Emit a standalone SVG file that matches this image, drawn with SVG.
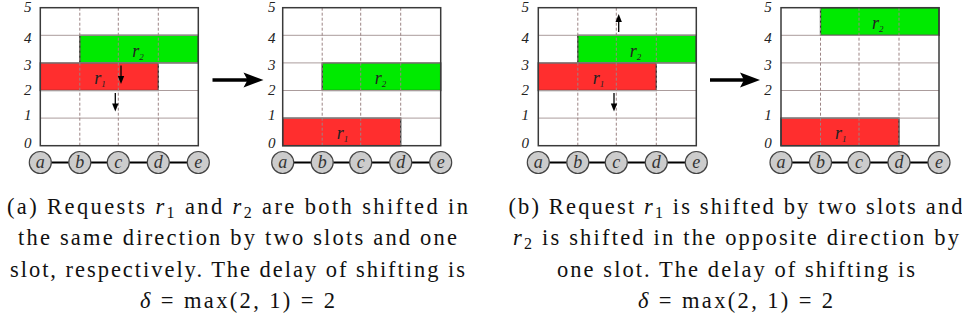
<svg xmlns="http://www.w3.org/2000/svg" width="962" height="322" viewBox="0 0 962 322">
<style>
.frame{fill:none;stroke:#3a3a3a;stroke-width:1.5}
.hl{stroke:#ab9c9c;stroke-width:1}
.vl{stroke:#9c8484;stroke-width:1;stroke-dasharray:3,2}
.red{fill:#ff2e2e;stroke:#333;stroke-width:1.3}
.green{fill:#00ea00;stroke:#333;stroke-width:1.3}
.nc{fill:#cccccc;stroke:#444;stroke-width:1.2}
.edge{stroke:#000;stroke-width:2}
.sl{stroke:#000;stroke-width:1.3}
.bl{stroke:#000;stroke-width:3.3}
</style>
<rect x="0" y="0" width="962" height="322" fill="#fff"/>
<g id="panel1" transform="translate(40.3,0)">
<rect x="0" y="7.7" width="158" height="138" fill="#fff"/>
<rect class="green" x="39.5" y="35.3" width="118.5" height="27.6"/>
<rect class="red" x="0" y="62.9" width="118" height="27.6"/>
<line class="hl" x1="0" y1="35.3" x2="158" y2="35.3"/>
<line class="hl" x1="0" y1="62.9" x2="158" y2="62.9"/>
<line class="hl" x1="0" y1="90.5" x2="158" y2="90.5"/>
<line class="hl" x1="0" y1="118.1" x2="158" y2="118.1"/>
<line class="vl" x1="39.5" y1="7.7" x2="39.5" y2="145.7"/>
<line class="vl" x1="78" y1="7.7" x2="78" y2="145.7"/>
<line class="vl" x1="118" y1="7.7" x2="118" y2="145.7"/>
<rect class="frame" x="0" y="7.7" width="158" height="138"/>
<text style="font-family:'Liberation Serif',serif;font-style:italic;font-size:18px" fill="#222" x="92" y="56.5">r<tspan style="font-size:9px" dy="3">2</tspan></text>
<text style="font-family:'Liberation Serif',serif;font-style:italic;font-size:18px" fill="#222" x="54" y="84">r<tspan style="font-size:9px" dy="3">1</tspan></text>
<text style="font-family:'Liberation Serif',serif;font-style:italic;font-size:15px" fill="#222" text-anchor="middle" x="-12.5" y="11.5">5</text>
<text style="font-family:'Liberation Serif',serif;font-style:italic;font-size:15px" fill="#222" text-anchor="middle" x="-12.5" y="42.5">4</text>
<text style="font-family:'Liberation Serif',serif;font-style:italic;font-size:15px" fill="#222" text-anchor="middle" x="-12.5" y="70">3</text>
<text style="font-family:'Liberation Serif',serif;font-style:italic;font-size:15px" fill="#222" text-anchor="middle" x="-12.5" y="95">2</text>
<text style="font-family:'Liberation Serif',serif;font-style:italic;font-size:15px" fill="#222" text-anchor="middle" x="-12.5" y="120">1</text>
<text style="font-family:'Liberation Serif',serif;font-style:italic;font-size:15px" fill="#222" text-anchor="middle" x="-12.5" y="147.5">0</text>
<g id="p1-connectors">
<line class="edge" x1="11" y1="162.5" x2="28.5" y2="162.5"/>
<line class="edge" x1="50.5" y1="162.5" x2="67" y2="162.5"/>
<line class="edge" x1="89" y1="162.5" x2="107" y2="162.5"/>
<line class="edge" x1="129" y1="162.5" x2="147" y2="162.5"/>
<line class="sl" x1="80.7" y1="65.5" x2="80.7" y2="78"/>
<polygon points="77.5,76 83.9,76 80.7,84" fill="#000"/>
<line class="sl" x1="75" y1="93" x2="75" y2="105.5"/>
<polygon points="71.8,103.5 78.2,103.5 75,111.5" fill="#000"/>
</g>
<g id="p1-a"><circle class="nc" cx="0" cy="162.5" r="11"/><text style="font-family:'Liberation Serif',serif;font-style:italic;font-size:18px" fill="#333" text-anchor="middle" x="0" y="168">a</text></g>
<g id="p1-b"><circle class="nc" cx="39.5" cy="162.5" r="11"/><text style="font-family:'Liberation Serif',serif;font-style:italic;font-size:18px" fill="#333" text-anchor="middle" x="39.5" y="168">b</text></g>
<g id="p1-c"><circle class="nc" cx="78" cy="162.5" r="11"/><text style="font-family:'Liberation Serif',serif;font-style:italic;font-size:18px" fill="#333" text-anchor="middle" x="78" y="168">c</text></g>
<g id="p1-d"><circle class="nc" cx="118" cy="162.5" r="11"/><text style="font-family:'Liberation Serif',serif;font-style:italic;font-size:18px" fill="#333" text-anchor="middle" x="118" y="168">d</text></g>
<g id="p1-e"><circle class="nc" cx="158" cy="162.5" r="11"/><text style="font-family:'Liberation Serif',serif;font-style:italic;font-size:18px" fill="#333" text-anchor="middle" x="158" y="168">e</text></g>
</g>
<g id="panel2" transform="translate(282.7,0)">
<rect x="0" y="7.7" width="158" height="138" fill="#fff"/>
<rect class="green" x="39.5" y="62.9" width="118.5" height="27.6"/>
<rect class="red" x="0" y="118.1" width="118" height="27.6"/>
<line class="hl" x1="0" y1="35.3" x2="158" y2="35.3"/>
<line class="hl" x1="0" y1="62.9" x2="158" y2="62.9"/>
<line class="hl" x1="0" y1="90.5" x2="158" y2="90.5"/>
<line class="hl" x1="0" y1="118.1" x2="158" y2="118.1"/>
<line class="vl" x1="39.5" y1="7.7" x2="39.5" y2="145.7"/>
<line class="vl" x1="78" y1="7.7" x2="78" y2="145.7"/>
<line class="vl" x1="118" y1="7.7" x2="118" y2="145.7"/>
<rect class="frame" x="0" y="7.7" width="158" height="138"/>
<text style="font-family:'Liberation Serif',serif;font-style:italic;font-size:18px" fill="#222" x="92" y="84">r<tspan style="font-size:9px" dy="3">2</tspan></text>
<text style="font-family:'Liberation Serif',serif;font-style:italic;font-size:18px" fill="#222" x="54" y="139">r<tspan style="font-size:9px" dy="3">1</tspan></text>
<text style="font-family:'Liberation Serif',serif;font-style:italic;font-size:15px" fill="#222" text-anchor="middle" x="-11" y="11.5">5</text>
<text style="font-family:'Liberation Serif',serif;font-style:italic;font-size:15px" fill="#222" text-anchor="middle" x="-11" y="42.5">4</text>
<text style="font-family:'Liberation Serif',serif;font-style:italic;font-size:15px" fill="#222" text-anchor="middle" x="-11" y="70">3</text>
<text style="font-family:'Liberation Serif',serif;font-style:italic;font-size:15px" fill="#222" text-anchor="middle" x="-11" y="95">2</text>
<text style="font-family:'Liberation Serif',serif;font-style:italic;font-size:15px" fill="#222" text-anchor="middle" x="-11" y="120">1</text>
<text style="font-family:'Liberation Serif',serif;font-style:italic;font-size:15px" fill="#222" text-anchor="middle" x="-11" y="147.5">0</text>
<g id="p2-connectors">
<line class="edge" x1="11" y1="162.5" x2="28.5" y2="162.5"/>
<line class="edge" x1="50.5" y1="162.5" x2="67" y2="162.5"/>
<line class="edge" x1="89" y1="162.5" x2="107" y2="162.5"/>
<line class="edge" x1="129" y1="162.5" x2="147" y2="162.5"/>
</g>
<g id="p2-a"><circle class="nc" cx="0" cy="162.5" r="11"/><text style="font-family:'Liberation Serif',serif;font-style:italic;font-size:18px" fill="#333" text-anchor="middle" x="0" y="168">a</text></g>
<g id="p2-b"><circle class="nc" cx="39.5" cy="162.5" r="11"/><text style="font-family:'Liberation Serif',serif;font-style:italic;font-size:18px" fill="#333" text-anchor="middle" x="39.5" y="168">b</text></g>
<g id="p2-c"><circle class="nc" cx="78" cy="162.5" r="11"/><text style="font-family:'Liberation Serif',serif;font-style:italic;font-size:18px" fill="#333" text-anchor="middle" x="78" y="168">c</text></g>
<g id="p2-d"><circle class="nc" cx="118" cy="162.5" r="11"/><text style="font-family:'Liberation Serif',serif;font-style:italic;font-size:18px" fill="#333" text-anchor="middle" x="118" y="168">d</text></g>
<g id="p2-e"><circle class="nc" cx="158" cy="162.5" r="11"/><text style="font-family:'Liberation Serif',serif;font-style:italic;font-size:18px" fill="#333" text-anchor="middle" x="158" y="168">e</text></g>
</g>
<g id="panel3" transform="translate(538.3,0)">
<rect x="0" y="7.7" width="158" height="138" fill="#fff"/>
<rect class="green" x="39.5" y="35.3" width="118.5" height="27.6"/>
<rect class="red" x="0" y="62.9" width="118" height="27.6"/>
<line class="hl" x1="0" y1="35.3" x2="158" y2="35.3"/>
<line class="hl" x1="0" y1="62.9" x2="158" y2="62.9"/>
<line class="hl" x1="0" y1="90.5" x2="158" y2="90.5"/>
<line class="hl" x1="0" y1="118.1" x2="158" y2="118.1"/>
<line class="vl" x1="39.5" y1="7.7" x2="39.5" y2="145.7"/>
<line class="vl" x1="78" y1="7.7" x2="78" y2="145.7"/>
<line class="vl" x1="118" y1="7.7" x2="118" y2="145.7"/>
<rect class="frame" x="0" y="7.7" width="158" height="138"/>
<text style="font-family:'Liberation Serif',serif;font-style:italic;font-size:18px" fill="#222" x="91.5" y="56.5">r<tspan style="font-size:9px" dy="3">2</tspan></text>
<text style="font-family:'Liberation Serif',serif;font-style:italic;font-size:18px" fill="#222" x="54.5" y="84">r<tspan style="font-size:9px" dy="3">1</tspan></text>
<text style="font-family:'Liberation Serif',serif;font-style:italic;font-size:15px" fill="#222" text-anchor="middle" x="-13" y="11.5">5</text>
<text style="font-family:'Liberation Serif',serif;font-style:italic;font-size:15px" fill="#222" text-anchor="middle" x="-13" y="42.5">4</text>
<text style="font-family:'Liberation Serif',serif;font-style:italic;font-size:15px" fill="#222" text-anchor="middle" x="-13" y="70">3</text>
<text style="font-family:'Liberation Serif',serif;font-style:italic;font-size:15px" fill="#222" text-anchor="middle" x="-13" y="95">2</text>
<text style="font-family:'Liberation Serif',serif;font-style:italic;font-size:15px" fill="#222" text-anchor="middle" x="-13" y="120">1</text>
<text style="font-family:'Liberation Serif',serif;font-style:italic;font-size:15px" fill="#222" text-anchor="middle" x="-13" y="147.5">0</text>
<g id="p3-connectors">
<line class="edge" x1="11" y1="162.5" x2="28.5" y2="162.5"/>
<line class="edge" x1="50.5" y1="162.5" x2="67" y2="162.5"/>
<line class="edge" x1="89" y1="162.5" x2="107" y2="162.5"/>
<line class="edge" x1="129" y1="162.5" x2="147" y2="162.5"/>
<line class="sl" x1="80.4" y1="32" x2="80.4" y2="20"/>
<polygon points="77.2,22 83.6,22 80.4,14" fill="#000"/>
<line class="sl" x1="75.7" y1="93" x2="75.7" y2="105.5"/>
<polygon points="72.5,103.5 78.9,103.5 75.7,111.5" fill="#000"/>
</g>
<g id="p3-a"><circle class="nc" cx="0" cy="162.5" r="11"/><text style="font-family:'Liberation Serif',serif;font-style:italic;font-size:18px" fill="#333" text-anchor="middle" x="0" y="168">a</text></g>
<g id="p3-b"><circle class="nc" cx="39.5" cy="162.5" r="11"/><text style="font-family:'Liberation Serif',serif;font-style:italic;font-size:18px" fill="#333" text-anchor="middle" x="39.5" y="168">b</text></g>
<g id="p3-c"><circle class="nc" cx="78" cy="162.5" r="11"/><text style="font-family:'Liberation Serif',serif;font-style:italic;font-size:18px" fill="#333" text-anchor="middle" x="78" y="168">c</text></g>
<g id="p3-d"><circle class="nc" cx="118" cy="162.5" r="11"/><text style="font-family:'Liberation Serif',serif;font-style:italic;font-size:18px" fill="#333" text-anchor="middle" x="118" y="168">d</text></g>
<g id="p3-e"><circle class="nc" cx="158" cy="162.5" r="11"/><text style="font-family:'Liberation Serif',serif;font-style:italic;font-size:18px" fill="#333" text-anchor="middle" x="158" y="168">e</text></g>
</g>
<g id="panel4" transform="translate(781,0)">
<rect x="0" y="7.7" width="158" height="138" fill="#fff"/>
<rect class="green" x="39.5" y="7.7" width="118.5" height="27.6"/>
<rect class="red" x="0" y="118.1" width="118" height="27.6"/>
<line class="hl" x1="0" y1="35.3" x2="158" y2="35.3"/>
<line class="hl" x1="0" y1="62.9" x2="158" y2="62.9"/>
<line class="hl" x1="0" y1="90.5" x2="158" y2="90.5"/>
<line class="hl" x1="0" y1="118.1" x2="158" y2="118.1"/>
<line class="vl" x1="39.5" y1="7.7" x2="39.5" y2="145.7"/>
<line class="vl" x1="78" y1="7.7" x2="78" y2="145.7"/>
<line class="vl" x1="118" y1="7.7" x2="118" y2="145.7"/>
<rect class="frame" x="0" y="7.7" width="158" height="138"/>
<text style="font-family:'Liberation Serif',serif;font-style:italic;font-size:18px" fill="#222" x="91" y="29">r<tspan style="font-size:9px" dy="3">2</tspan></text>
<text style="font-family:'Liberation Serif',serif;font-style:italic;font-size:18px" fill="#222" x="54" y="139">r<tspan style="font-size:9px" dy="3">1</tspan></text>
<text style="font-family:'Liberation Serif',serif;font-style:italic;font-size:15px" fill="#222" text-anchor="middle" x="-13" y="11.5">5</text>
<text style="font-family:'Liberation Serif',serif;font-style:italic;font-size:15px" fill="#222" text-anchor="middle" x="-13" y="42.5">4</text>
<text style="font-family:'Liberation Serif',serif;font-style:italic;font-size:15px" fill="#222" text-anchor="middle" x="-13" y="70">3</text>
<text style="font-family:'Liberation Serif',serif;font-style:italic;font-size:15px" fill="#222" text-anchor="middle" x="-13" y="95">2</text>
<text style="font-family:'Liberation Serif',serif;font-style:italic;font-size:15px" fill="#222" text-anchor="middle" x="-13" y="120">1</text>
<text style="font-family:'Liberation Serif',serif;font-style:italic;font-size:15px" fill="#222" text-anchor="middle" x="-13" y="147.5">0</text>
<g id="p4-connectors">
<line class="edge" x1="11" y1="162.5" x2="28.5" y2="162.5"/>
<line class="edge" x1="50.5" y1="162.5" x2="67" y2="162.5"/>
<line class="edge" x1="89" y1="162.5" x2="107" y2="162.5"/>
<line class="edge" x1="129" y1="162.5" x2="147" y2="162.5"/>
</g>
<g id="p4-a"><circle class="nc" cx="0" cy="162.5" r="11"/><text style="font-family:'Liberation Serif',serif;font-style:italic;font-size:18px" fill="#333" text-anchor="middle" x="0" y="168">a</text></g>
<g id="p4-b"><circle class="nc" cx="39.5" cy="162.5" r="11"/><text style="font-family:'Liberation Serif',serif;font-style:italic;font-size:18px" fill="#333" text-anchor="middle" x="39.5" y="168">b</text></g>
<g id="p4-c"><circle class="nc" cx="78" cy="162.5" r="11"/><text style="font-family:'Liberation Serif',serif;font-style:italic;font-size:18px" fill="#333" text-anchor="middle" x="78" y="168">c</text></g>
<g id="p4-d"><circle class="nc" cx="118" cy="162.5" r="11"/><text style="font-family:'Liberation Serif',serif;font-style:italic;font-size:18px" fill="#333" text-anchor="middle" x="118" y="168">d</text></g>
<g id="p4-e"><circle class="nc" cx="158" cy="162.5" r="11"/><text style="font-family:'Liberation Serif',serif;font-style:italic;font-size:18px" fill="#333" text-anchor="middle" x="158" y="168">e</text></g>
</g>
<g id="transitions">
<line class="bl" x1="212.5" y1="80" x2="250" y2="80"/>
<polygon points="243.5,72.5 263.5,80 243.5,87.5 247.5,80" fill="#000"/>
<line class="bl" x1="710" y1="80" x2="747" y2="80"/>
<polygon points="740,72.5 760,80 740,87.5 744,80" fill="#000"/>
</g>
<g id="caption-a">
<text style="font-family:'Liberation Serif',serif;font-size:22.5px" fill="#111" text-anchor="middle" x="237.5" y="214" textLength="461" lengthAdjust="spacing">(a) Requests <tspan style="font-style:italic">r</tspan><tspan style="font-size:16px" dy="4">1</tspan><tspan dy="-4"> and </tspan><tspan style="font-style:italic">r</tspan><tspan style="font-size:16px" dy="4">2</tspan><tspan dy="-4"> are both shifted in</tspan></text>
<text style="font-family:'Liberation Serif',serif;font-size:22.5px" fill="#111" text-anchor="middle" x="237.5" y="245" textLength="439" lengthAdjust="spacing">the same direction by two slots and one</text>
<text style="font-family:'Liberation Serif',serif;font-size:22.5px" fill="#111" text-anchor="middle" x="237.5" y="277" textLength="455" lengthAdjust="spacing">slot, respectively. The delay of shifting is</text>
<text style="font-family:'Liberation Serif',serif;font-size:22.5px" fill="#111" text-anchor="middle" x="237.5" y="308" textLength="195" lengthAdjust="spacing"><tspan style="font-style:italic">δ</tspan> = max(2, 1) = 2</text>
</g>
<g id="caption-b">
<text style="font-family:'Liberation Serif',serif;font-size:22.5px" fill="#111" text-anchor="middle" x="735.5" y="214" textLength="454" lengthAdjust="spacing">(b) Request <tspan style="font-style:italic">r</tspan><tspan style="font-size:16px" dy="4">1</tspan><tspan dy="-4"> is shifted by two slots and</tspan></text>
<text style="font-family:'Liberation Serif',serif;font-size:22.5px" fill="#111" text-anchor="middle" x="736" y="245" textLength="446" lengthAdjust="spacing"><tspan style="font-style:italic">r</tspan><tspan style="font-size:16px" dy="4">2</tspan><tspan dy="-4"> is shifted in the opposite direction by</tspan></text>
<text style="font-family:'Liberation Serif',serif;font-size:22.5px" fill="#111" text-anchor="middle" x="736" y="277" textLength="358" lengthAdjust="spacing">one slot. The delay of shifting is</text>
<text style="font-family:'Liberation Serif',serif;font-size:22.5px" fill="#111" text-anchor="middle" x="735.5" y="308" textLength="195" lengthAdjust="spacing"><tspan style="font-style:italic">δ</tspan> = max(2, 1) = 2</text>
</g>
</svg>
